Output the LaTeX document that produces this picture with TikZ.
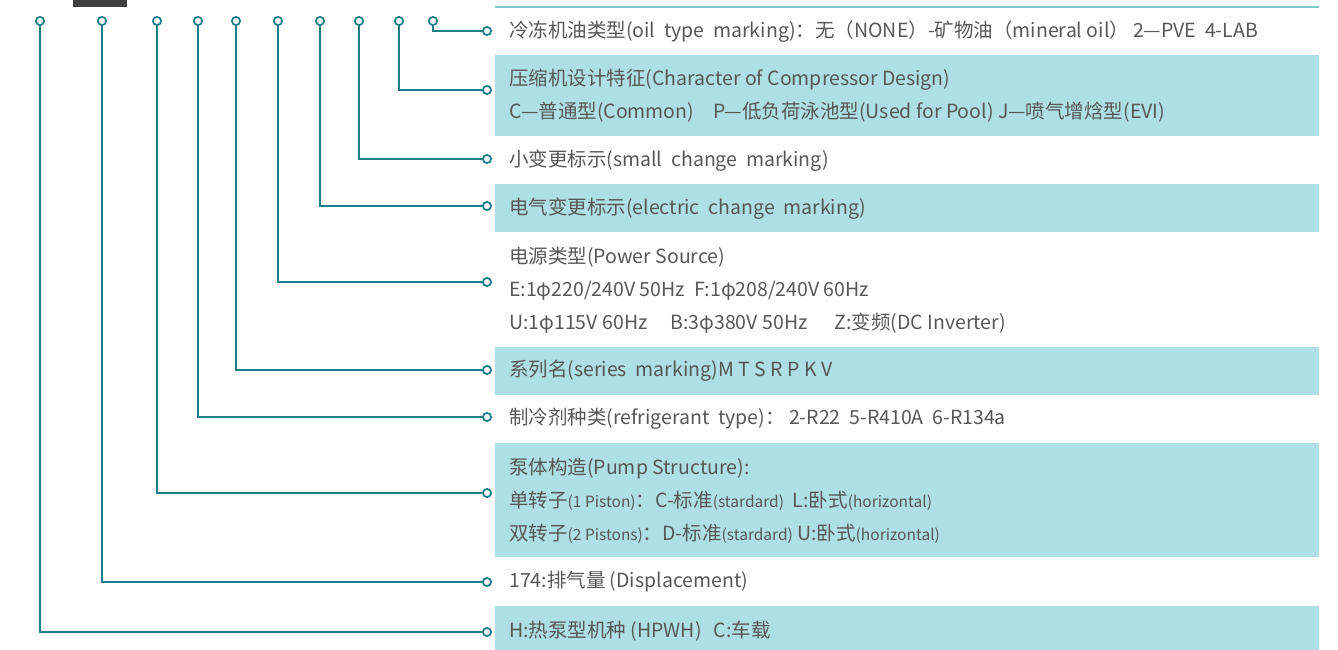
\documentclass[tikz,border=0pt]{standalone}
\usepackage{fontspec}
\setmainfont{Noto Sans CJK SC}
\definecolor{wirecol}{HTML}{1F7F88}
\definecolor{bandcol}{HTML}{AEDFE4}
\definecolor{rulecol}{HTML}{7ECBD0}
\definecolor{textcol}{HTML}{575757}
\definecolor{barcol}{HTML}{404040}
\newcommand{\smtxt}[1]{{\fontsize{15.5}{15.5}\selectfont #1}}
\begin{document}
\begin{tikzpicture}[x=1pt, y=-1pt,
  pin/.style = {shape=circle, draw=wirecol, line width=1.8pt,
    fill=white, inner sep=0pt, minimum size=8.2pt},
  lbl/.style = {anchor=west, inner sep=0pt, align=left, text=textcol,
    font=\fontsize{19.5}{33}\selectfont},
  wire/.style = {draw=wirecol, line width=1.8pt}]
  \useasboundingbox (0,0) rectangle (1338,650);
  % bands behind the texts
  \fill[bandcol] (495,55) rectangle (1319,136);
  \fill[bandcol] (495,184) rectangle (1319,232);
  \fill[bandcol] (495,347) rectangle (1319,395);
  \fill[bandcol] (495,443) rectangle (1319,557);
  \fill[bandcol] (495,606) rectangle (1319,650);
  \draw[rulecol, line width=1.5pt] (495,7) -- (1319,7);
  \fill[barcol] (73,0) rectangle (127,7);

  % pins on the top row
  \node[pin] (oil) at (433,21) {};
  \node[pin] (design) at (399,21) {};
  \node[pin] (small) at (359,21) {};
  \node[pin] (elec) at (320,21) {};
  \node[pin] (power) at (278,21) {};
  \node[pin] (series) at (236,21) {};
  \node[pin] (refr) at (198,21) {};
  \node[pin] (pump) at (157,21) {};
  \node[pin] (disp) at (102,21) {};
  \node[pin] (kind) at (40,21) {};

  % pins in front of the texts
  \node[pin] (oilE) at (487,31) {};
  \node[pin] (designE) at (487,90) {};
  \node[pin] (smallE) at (487,159) {};
  \node[pin] (elecE) at (487,206) {};
  \node[pin] (powerE) at (487,282) {};
  \node[pin] (seriesE) at (487,370) {};
  \node[pin] (refrE) at (487,417) {};
  \node[pin] (pumpE) at (487,493) {};
  \node[pin] (dispE) at (487,582) {};
  \node[pin] (kindE) at (487,632) {};

  % texts
  \node[lbl] (oilT) at (509,32)
    {冷冻机油类型(oil\ \ type\ \ marking)：无（NONE）-矿物油（mineral oil）\hspace{4pt}2—PVE\ \ 4-LAB};
  \node[lbl] (designT) at (509,96)
    {压缩机设计特征(Character of Compressor Design)\\
     C—普通型(Common)\hspace{19pt}P—低负荷泳池型(Used for Pool)\ J—喷气增焓型(EVI)};
  \node[lbl] (smallT) at (509,161) {小变更标示(small\ \ change\ \ marking)};
  \node[lbl] (elecT) at (509,209) {电气变更标示(electric\ \ change\ \ marking)};
  \node[lbl] (powerT) at (509,290)
    {电源类型(Power Source)\\
     E:1φ220/240V 50Hz\hspace{9pt}F:1φ208/240V 60Hz\\
     U:1φ115V 60Hz\hspace{23pt}B:3φ380V 50Hz\hspace{27pt}Z:变频(DC Inverter)};
  \node[lbl] (seriesT) at (509,371) {系列名(series\ \ marking)M T S R P K V};
  \node[lbl] (refrT) at (509,419)
    {制冷剂种类(refrigerant\ \ type)：\ 2-R22\ \ 5-R410A\ \ 6-R134a};
  \node[lbl] (pumpT) at (509,501)
    {泵体构造(Pump Structure):\\
     单转子\smtxt{(1 Piston)}：C-标准\smtxt{(stardard)}\ \ L:卧式\smtxt{(horizontal)}\\
     双转子\smtxt{(2 Pistons)}：D-标准\smtxt{(stardard)}\ U:卧式\smtxt{(horizontal)}};
  \node[lbl] (dispT) at (509,582) {174:排气量 (Displacement)};
  \node[lbl] (kindT) at (509,631) {H:热泵型机种 (HPWH)\hspace{12pt}C:车载};

  \draw[wire] (oil) |- (oilE);
  \draw[wire] (design) |- (designE);
  \draw[wire] (small) |- (smallE);
  \draw[wire] (elec) |- (elecE);
  \draw[wire] (power) |- (powerE);
  \draw[wire] (series) |- (seriesE);
  \draw[wire] (refr) |- (refrE);
  \draw[wire] (pump) |- (pumpE);
  \draw[wire] (disp) |- (dispE);
  \draw[wire] (kind) |- (kindE);

\end{tikzpicture}
\end{document}
